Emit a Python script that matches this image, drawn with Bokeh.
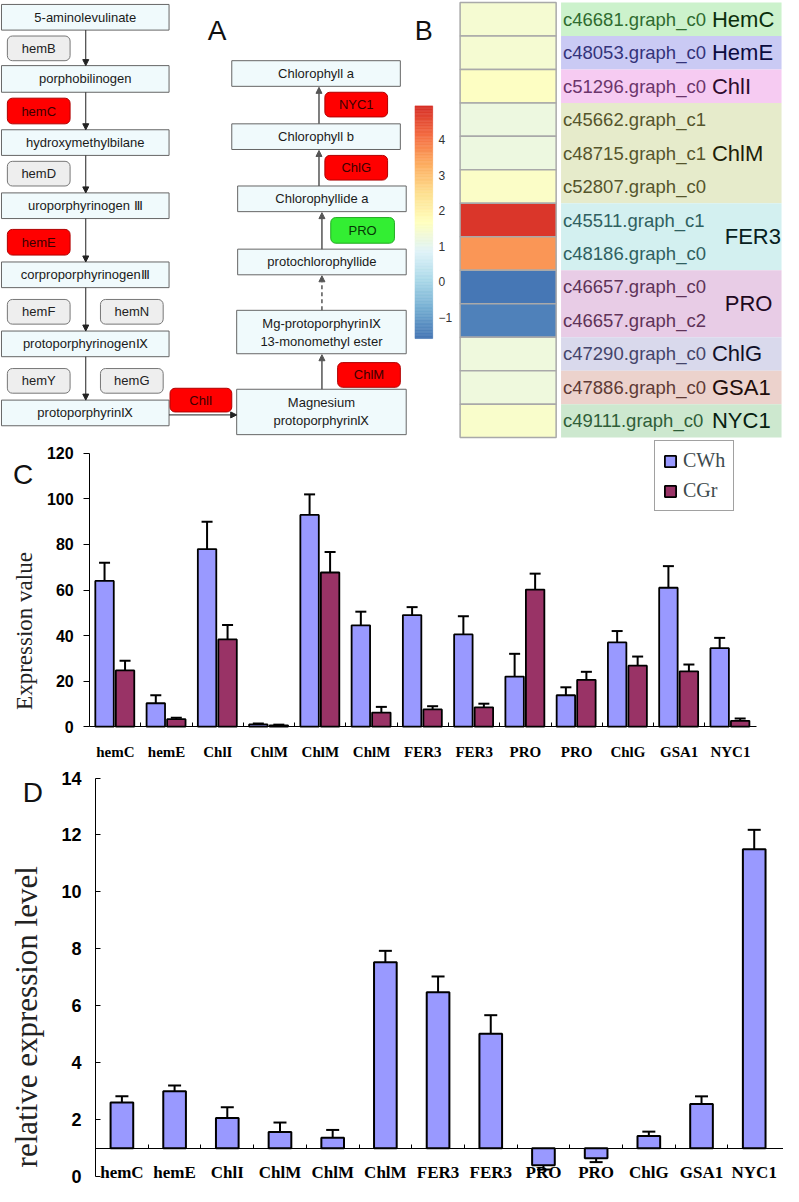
import numpy as np
from bokeh.plotting import figure
from bokeh.models import (Range1d, ColumnDataSource, Arrow, NormalHead, TeeHead, Whisker,
                          FixedTicker, Legend, LegendItem, LinearColorMapper, LinearAxis)
from bokeh.core.properties import value
from bokeh.embed import file_html
from bokeh.resources import INLINE

# ------------------------------------------------------------------ data
# Panel A: pathway
left_steps = ["5-aminolevulinate", "porphobilinogen", "hydroxymethylbilane",
              "uroporphyrinogen \u2162", "corproporphyrinogen\u2162",
              "protoporphyrinogen\u2168", "protoporphyrin\u2168"]
left_enzymes = [["hemB"], ["hemC"], ["hemD"], ["hemE"], ["hemF", "hemN"], ["hemY", "hemG"]]
left_status = [["none"], ["up"], ["none"], ["up"], ["none", "none"], ["none", "none"]]
link_enzyme, link_status = "ChlI", "up"
right_steps = ["Magnesium\nprotoporphyrin\u2168", "Mg-protoporphyrin\u2168\n13-monomethyl ester",
               "protochlorophyllide", "Chlorophyllide a", "Chlorophyll b", "Chlorophyll a"]
right_enzymes = ["ChlM", "PRO", "ChlG", "NYC1"]
right_status = ["up", "down", "up", "up"]

# Panel B: heatmap
heat_ids = ["c46681.graph_c0", "c48053.graph_c0", "c51296.graph_c0", "c45662.graph_c1",
            "c48715.graph_c1", "c52807.graph_c0", "c45511.graph_c1", "c48186.graph_c0",
            "c46657.graph_c0", "c46657.graph_c2", "c47290.graph_c0", "c47886.graph_c0",
            "c49111.graph_c0"]
heat_values = [1.4, 1.4, 1.6, 1.2, 1.2, 1.55, 4.85, 3.6, -1.55, -1.4, 1.25, 1.25, 1.5]
heat_groups = ["HemC", "HemE", "ChlI", "ChlM", "FER3", "PRO", "ChlG", "GSA1", "NYC1"]
heat_group_sizes = [1, 1, 1, 3, 2, 2, 1, 1, 1]
cbar_ticks = [-1, 0, 1, 2, 3, 4]

# Panel C
genes = ["hemC", "hemE", "ChlI", "ChlM", "ChlM", "ChlM", "FER3", "FER3", "PRO", "PRO", "ChlG", "GSA1", "NYC1"]
cwh = [64, 10.3, 78, 1.0, 93, 44.5, 49, 40.5, 22, 13.8, 37, 61, 34.5]
cwh_err = [8, 3.5, 12, 0.4, 9, 6, 3.5, 8, 10, 3.5, 5, 9.5, 4.5]
cgr = [24.7, 3.3, 38.3, 0.6, 67.7, 6.2, 7.6, 8.5, 60.2, 20.6, 26.8, 24.3, 2.6]
cgr_err = [4.3, 0.6, 6.3, 0.3, 9, 2.5, 1.4, 1.6, 7, 3.5, 4, 3, 1]
c_ticks = [0, 20, 40, 60, 80, 100, 120]

# Panel D
rel = [2.6, 3.0, 2.06, 1.57, 1.37, 7.53, 6.48, 5.02, 0.40, 0.65, 1.43, 2.55, 11.5]
rel_err = [0.22, 0.2, 0.38, 0.33, 0.27, 0.4, 0.55, 0.65, 0.15, 0.14, 0.15, 0.27, 0.68]
d_ticks = [0, 2, 4, 6, 8, 10, 12, 14]

# ------------------------------------------------------------------ style / layout
W, H = 783, 1186
REF_W, REF_H = 799, 1202
SX = W / REF_W
SY = H / REF_H
SANS = "Liberation Sans"
SERIF = "Liberation Serif"
STAT = {"up": ("#ff0000", "#b00000", "#3b0000"),
        "down": ("#33ee33", "#22aa22", "#063806"),
        "none": ("#eeeeee", "#777777", "#222222")}

p = figure(width=W, height=H, x_range=Range1d(0, REF_W), y_range=Range1d(REF_H, 0),
           output_backend="svg", toolbar_location=None, min_border=0,
           x_axis_location=None, y_axis_location=None)
p.grid.visible = False
p.outline_line_color = None


def span_range(v0, px0, v1, px1, full0, full1):
    k = (v1 - v0) / (px1 - px0)
    return Range1d(v0 + (full0 - px0) * k, v0 + (full1 - px0) * k)


# panel placement (reference pixel anchors) -> library ranges
p.extra_x_ranges = {"cx": span_range(0, 91, 13, 771, 0, REF_W),
                    "dx": span_range(0, 97, 13, 796, 0, REF_W)}
p.extra_y_ranges = {"cy": span_range(0, 736, 120, 459, REF_H, 0),
                    "dy": span_range(0, 1192, 14, 788, REF_H, 0)}


def pill(l, r, t, b, fill, line):
    kw = dict(left=[l], right=[r], top=[t], bottom=[b], fill_color=fill, line_color=line, line_width=1)
    try:
        p.quad(border_radius=5, **kw)
    except Exception:
        p.quad(**kw)


def box(l, r, t, b):
    p.quad(left=[l], right=[r], top=[t], bottom=[b], fill_color="#f0fafc", line_color="#666666", line_width=1)


def label(x, y, txt, color="#1a1a1a", size="13px", font=SANS, angle=0.0, align="center"):
    p.text(x=[x], y=[y], text=[txt], text_align=align, text_baseline="middle", angle=angle,
           text_font=value(font), text_font_size=size, text_color=color)


def arrow(x0, y0, x1, y1, color="#222222", dash="solid", width=1):
    p.add_layout(Arrow(end=NormalHead(size=6, fill_color=color, line_color=color),
                       x_start=x0, y_start=y0, x_end=x1, y_end=y1,
                       line_color=color, line_width=width, line_dash=dash))


# ------------------------------------------------------------------ panel A
left_y = [(4, 30), (66, 93), (131, 157), (195, 221), (265, 291), (335, 361), (405, 431)]
pill_y = [(36, 61), (99, 125), (163, 188), (232, 258), (303, 328), (373, 398)]
pill_x = [(7, 71), (102, 166)]
for (y0, y1), txt in zip(left_y, left_steps):
    box(1, 172, y0, y1)
    label(86.5, (y0 + y1) / 2, txt)
for k, ((y0, y1), names, stats) in enumerate(zip(pill_y, left_enzymes, left_status)):
    for (x0, x1), nm, st in zip(pill_x, names, stats):
        f, lc, tc = STAT[st]
        pill(x0, x1, y0, y1, f, lc)
        label((x0 + x1) / 2, (y0 + y1) / 2, nm, tc)
    arrow(87, left_y[k][1], 87, left_y[k + 1][0])

f, lc, tc = STAT[link_status]
pill(173, 236, 393, 417, f, lc)
label(204.5, 405, link_enzyme, tc)
arrow(172, 420, 241, 420)

right_box = [(241, 414, 394, 440), (241, 414, 314, 358), (242, 414, 252, 278),
             (242, 414, 188, 214), (236, 408, 125, 151), (236, 408, 61, 87)]
for (x0, x1, y0, y1), txt in zip(right_box, right_steps):
    box(x0, x1, y0, y1)
    label((x0 + x1) / 2, (y0 + y1) / 2, txt)
right_pills = [(344, 408, 367, 392), (337, 402, 220, 246), (331, 395, 157, 182), (331, 395, 93, 118)]
for (x0, x1, y0, y1), nm, st in zip(right_pills, right_enzymes, right_status):
    f, lc, tc = STAT[st]
    pill(x0, x1, y0, y1, f, lc)
    label((x0 + x1) / 2, (y0 + y1) / 2, nm, tc)
arrow(328, 394, 328, 359, "#555555", width=1.5)
arrow(328, 314, 328, 279, "#555555", dash="4 3", width=1.5)
arrow(328, 252, 328, 215, "#555555", width=1.5)
arrow(325, 188, 325, 152, "#555555", width=1.5)
arrow(325, 125, 325, 88, "#555555", width=1.5)

label(221, 30, "A", "#111111", "28px")
label(432, 31, "B", "#111111", "27px")

# ------------------------------------------------------------------ panel B
anchors = ["#4575b4", "#74add1", "#abd9e9", "#e0f3f8", "#ffffbf", "#fee090", "#fdae61", "#f46d43", "#d73027"]
A = np.array([[int(c[i:i + 2], 16) for i in (1, 3, 5)] for c in anchors], float)
pal = []
for tv in np.linspace(0, len(anchors) - 1, 256):
    i = min(int(tv), len(anchors) - 2)
    fr = tv - i
    c = A[i] * (1 - fr) + A[i + 1] * fr
    pal.append("#%02x%02x%02x" % tuple(int(round(v)) for v in c))
VMIN, VMAX = -1.6, 4.95
mapper = LinearColorMapper(palette=pal, low=VMIN, high=VMAX)

CB_ZERO, CB_UNIT = 285, 36
edges = np.linspace(VMIN, VMAX, 161)
mids = (edges[:-1] + edges[1:]) / 2
cb = ColumnDataSource(dict(t=CB_ZERO - edges[1:] * CB_UNIT, b=CB_ZERO - edges[:-1] * CB_UNIT, v=mids))
p.quad(left=423, right=441, top="t", bottom="b", source=cb,
       fill_color={"field": "v", "transform": mapper},
       line_color={"field": "v", "transform": mapper}, line_width=0.6)
p.text(x=[447] * len(cbar_ticks), y=[CB_ZERO - t * CB_UNIT for t in cbar_ticks],
       text=[("\u2212" + str(-t)) if t < 0 else str(t) for t in cbar_ticks],
       text_align="left", text_baseline="middle", text_font=value(SANS),
       text_font_size="12px", text_color="#333333")

ROW0, ROWH = 2, 441 / 13
rows = np.arange(len(heat_ids))
hs = ColumnDataSource(dict(t=ROW0 + rows * ROWH, b=ROW0 + (rows + 1) * ROWH, v=heat_values))
p.quad(left=469, right=567, top="t", bottom="b", source=hs,
       fill_color={"field": "v", "transform": mapper}, line_color="#a9a9a9", line_width=1.5)

band_colors = ["#ccf2cc", "#cacaf4", "#f6cbf2", "#e6ebcb", "#d3f0f0", "#e8cce6", "#d9d9ec", "#ecd2cc", "#cde8cf"]
id_colors = ["#2f6b2f", "#33337a", "#6b356b", "#55552b", "#2f6060", "#5e3358", "#44446a", "#5e3a35", "#2f5e38"]
name_colors = ["#0b2e0b", "#0b0b40", "#2e0b2e", "#1e1e08", "#062020", "#200820", "#101028", "#200c0a", "#062010"]
start = 0
for g, (nm, n) in enumerate(zip(heat_groups, heat_group_sizes)):
    y0 = ROW0 + start * ROWH
    y1 = ROW0 + (start + n) * ROWH
    p.quad(left=[572], right=[797], top=[y0], bottom=[y1], fill_color=band_colors[g], line_color=None)
    p.text(x=[574] * n, y=list(ROW0 + (np.arange(start, start + n) + 0.5) * ROWH),
           text=heat_ids[start:start + n], text_align="left", text_baseline="middle",
           text_font=value(SANS), text_font_size="18.5px", text_color=id_colors[g])
    nx = 739 if n == 2 else 726
    label(nx, (y0 + y1) / 2, nm, name_colors[g], "22px", align="left")
    start += n

# ------------------------------------------------------------------ panel C
xi = np.arange(len(genes))
srcC = ColumnDataSource(dict(xw=xi + 0.29, xg=xi + 0.69, cwh=cwh, cgr=cgr,
                             wu=np.array(cwh) + np.array(cwh_err), wl=np.array(cwh) - np.array(cwh_err),
                             gu=np.array(cgr) + np.array(cgr_err), gl=np.array(cgr) - np.array(cgr_err)))
r1 = p.vbar(x="xw", top="cwh", width=0.36, source=srcC, fill_color="#9999ff", line_color="black",
            line_width=1.8, x_range_name="cx", y_range_name="cy")
r2 = p.vbar(x="xg", top="cgr", width=0.36, source=srcC, fill_color="#993366", line_color="black",
            line_width=1.8, x_range_name="cx", y_range_name="cy")
for base, up, lo in (("xw", "wu", "wl"), ("xg", "gu", "gl")):
    p.add_layout(Whisker(source=srcC, base=base, upper=up, lower=lo, line_color="black", line_width=2,
                         x_range_name="cx", y_range_name="cy",
                         upper_head=TeeHead(size=11, line_width=2, line_color="black"),
                         lower_head=TeeHead(size=11, line_width=2, line_color="black")))


def style_axis(ax, font, size, style="bold"):
    ax.major_label_text_font = font
    ax.major_label_text_font_style = style
    ax.major_label_text_font_size = size
    ax.major_label_text_color = "black"
    ax.axis_line_color = "black"
    ax.major_tick_line_color = "black"
    ax.minor_tick_line_color = "black"


yc = LinearAxis(x_range_name="cx", y_range_name="cy", fixed_location=0, bounds=(0, 120),
                ticker=FixedTicker(ticks=c_ticks))
style_axis(yc, SANS, "16px")
yc.major_tick_out = 6
yc.major_tick_in = 0
yc.minor_tick_line_color = None
yc.major_label_standoff = 10
p.add_layout(yc, "left")

xc = LinearAxis(x_range_name="cx", y_range_name="cy", fixed_location=0, bounds=(0, 13),
                ticker=FixedTicker(ticks=list(xi + 0.5), minor_ticks=list(range(1, 13))))
xc.major_label_overrides = {float(i + 0.5): g for i, g in enumerate(genes)}
style_axis(xc, SERIF, "15px")
xc.major_label_standoff = 17
xc.major_tick_in = 0
xc.major_tick_out = 0
xc.minor_tick_in = 4
xc.minor_tick_out = 0
p.add_layout(xc, "below")

legend = Legend(items=[LegendItem(label="CWh", renderers=[r1]), LegendItem(label="CGr", renderers=[r2])],
                location=(round(667 * SX), round((REF_H - 518) * SY)),
                border_line_color="#444444", border_line_width=1, background_fill_alpha=1,
                padding=8, spacing=7, glyph_width=14, glyph_height=14, label_standoff=6,
                label_text_font=SERIF, label_text_font_size="20px", label_text_color="#3d4a4d",
                margin=0)
p.add_layout(legend)

label(23, 480, "C", "#111111", "28px")
label(24, 639, "Expression value", "#222222", "23px", SERIF, np.pi / 2)

# ------------------------------------------------------------------ panel D
srcD = ColumnDataSource(dict(x=xi + 0.5, rel=rel, up=np.array(rel) + np.array(rel_err),
                             lo=np.array(rel) - np.array(rel_err)))
p.vbar(x="x", bottom=1, top="rel", width=0.43, source=srcD, fill_color="#9999ff",
       line_color="black", line_width=2, x_range_name="dx", y_range_name="dy")
p.add_layout(Whisker(source=srcD, base="x", upper="up", lower="lo", line_color="black", line_width=2,
                     x_range_name="dx", y_range_name="dy",
                     upper_head=TeeHead(size=13, line_width=2, line_color="black"),
                     lower_head=TeeHead(size=13, line_width=2, line_color="black")))

yd = LinearAxis(x_range_name="dx", y_range_name="dy", fixed_location=0, bounds=(0, 14),
                ticker=FixedTicker(ticks=d_ticks))
style_axis(yd, SANS, "18px")
yd.major_tick_out = 0
yd.major_tick_in = 5
yd.minor_tick_line_color = None
yd.major_label_standoff = 14
p.add_layout(yd, "left")

xd = LinearAxis(x_range_name="dx", y_range_name="dy", fixed_location=1, bounds=(0, 13.05),
                ticker=FixedTicker(ticks=list(xi + 0.5), minor_ticks=list(range(1, 13))))
xd.major_label_overrides = {float(i + 0.5): g for i, g in enumerate(genes)}
style_axis(xd, SERIF, "17px")
xd.major_label_standoff = 15
xd.major_tick_in = 0
xd.major_tick_out = 0
xd.minor_tick_in = 4
xd.minor_tick_out = 0
p.add_layout(xd, "below")

label(33, 803, "D", "#111111", "28px")
label(27, 1030, "relative expression level", "#222222", "31px", SERIF, np.pi / 2)

open("out.html", "w").write(file_html(p, INLINE))
